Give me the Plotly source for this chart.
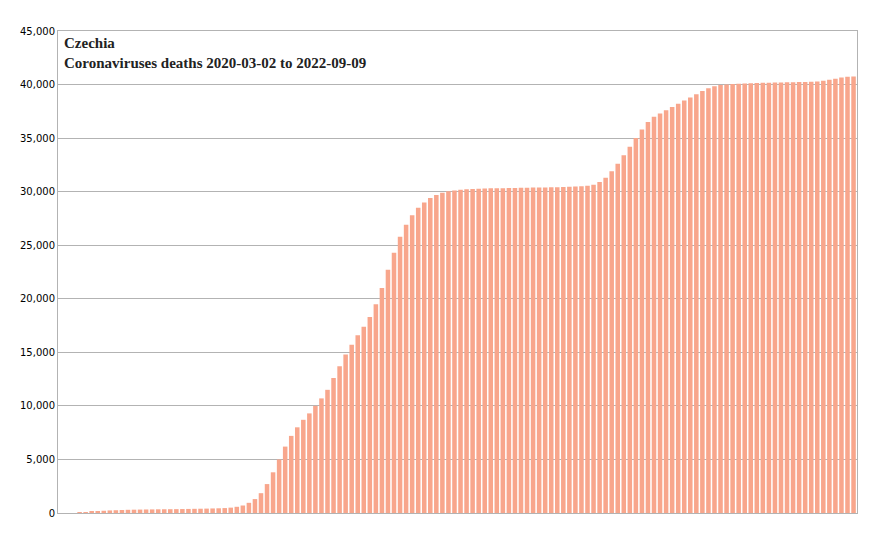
import plotly.graph_objects as go
import pandas as pd

# weekly cumulative deaths, starting 2020-03-02
deaths = [
    0, 0, 0, 9, 50, 100, 160, 210, 240, 260, 280, 300, 310, 320, 330, 335,
    345, 350, 355, 360, 370, 380, 390, 400, 410, 425, 440, 460, 500, 580, 700, 950,
    1300, 1850, 2700, 3800, 5000, 6200, 7200, 8000, 8700, 9300, 10000, 10700, 11500, 12600, 13700, 14800,
    15700, 16600, 17400, 18300, 19500, 21000, 22700, 24300, 25800, 26900, 27800, 28500, 29000, 29400, 29700, 29900,
    30050, 30120, 30180, 30230, 30260, 30280, 30300, 30310, 30320, 30330, 30340, 30350, 30360, 30370, 30380, 30390,
    30400, 30410, 30420, 30440, 30460, 30480, 30500, 30550, 30650, 30900, 31300, 31900, 32600, 33400, 34200, 35000,
    35800, 36500, 37000, 37300, 37600, 37900, 38200, 38500, 38800, 39100, 39400, 39650, 39850, 39950, 40000, 40050,
    40080, 40100, 40120, 40140, 40160, 40180, 40190, 40200, 40210, 40220, 40230, 40240, 40260, 40290, 40350, 40450,
    40550, 40650, 40720, 40760,
]
dates = pd.date_range("2020-03-02", periods=len(deaths), freq="7D")

fig = go.Figure(go.Bar(
    x=dates, y=deaths,
    marker=dict(color="#F8A68C", line=dict(width=0)),
))

fig.add_annotation(
    xref="paper", yref="paper", x=0.005, y=0.995, xanchor="left", yanchor="top",
    align="left", showarrow=False,
    text="<b>Czechia<br>Coronaviruses deaths 2020-03-02 to 2022-09-09</b>",
    font=dict(family="Liberation Serif", size=15, color="#222"),
)

fig.update_layout(
    width=875, height=533,
    margin=dict(l=44, r=26, t=23, b=28),
    plot_bgcolor="white", paper_bgcolor="white",
    bargap=0.25, showlegend=False,
    font=dict(family="DejaVu Sans", size=10, color="black"),
    xaxis=dict(showticklabels=False, showgrid=False, ticks="",
               showline=True, linecolor="#b3b3b3", mirror=True,
               range=[dates[0] - pd.Timedelta(days=4), dates[-1] + pd.Timedelta(days=4)]),
    yaxis=dict(range=[0, 45000], dtick=5000, tickformat=",", gridcolor="#b3b3b3",
               showline=True, linecolor="#b3b3b3", mirror=True, zeroline=False),
)

fig.write_html("out.html")
